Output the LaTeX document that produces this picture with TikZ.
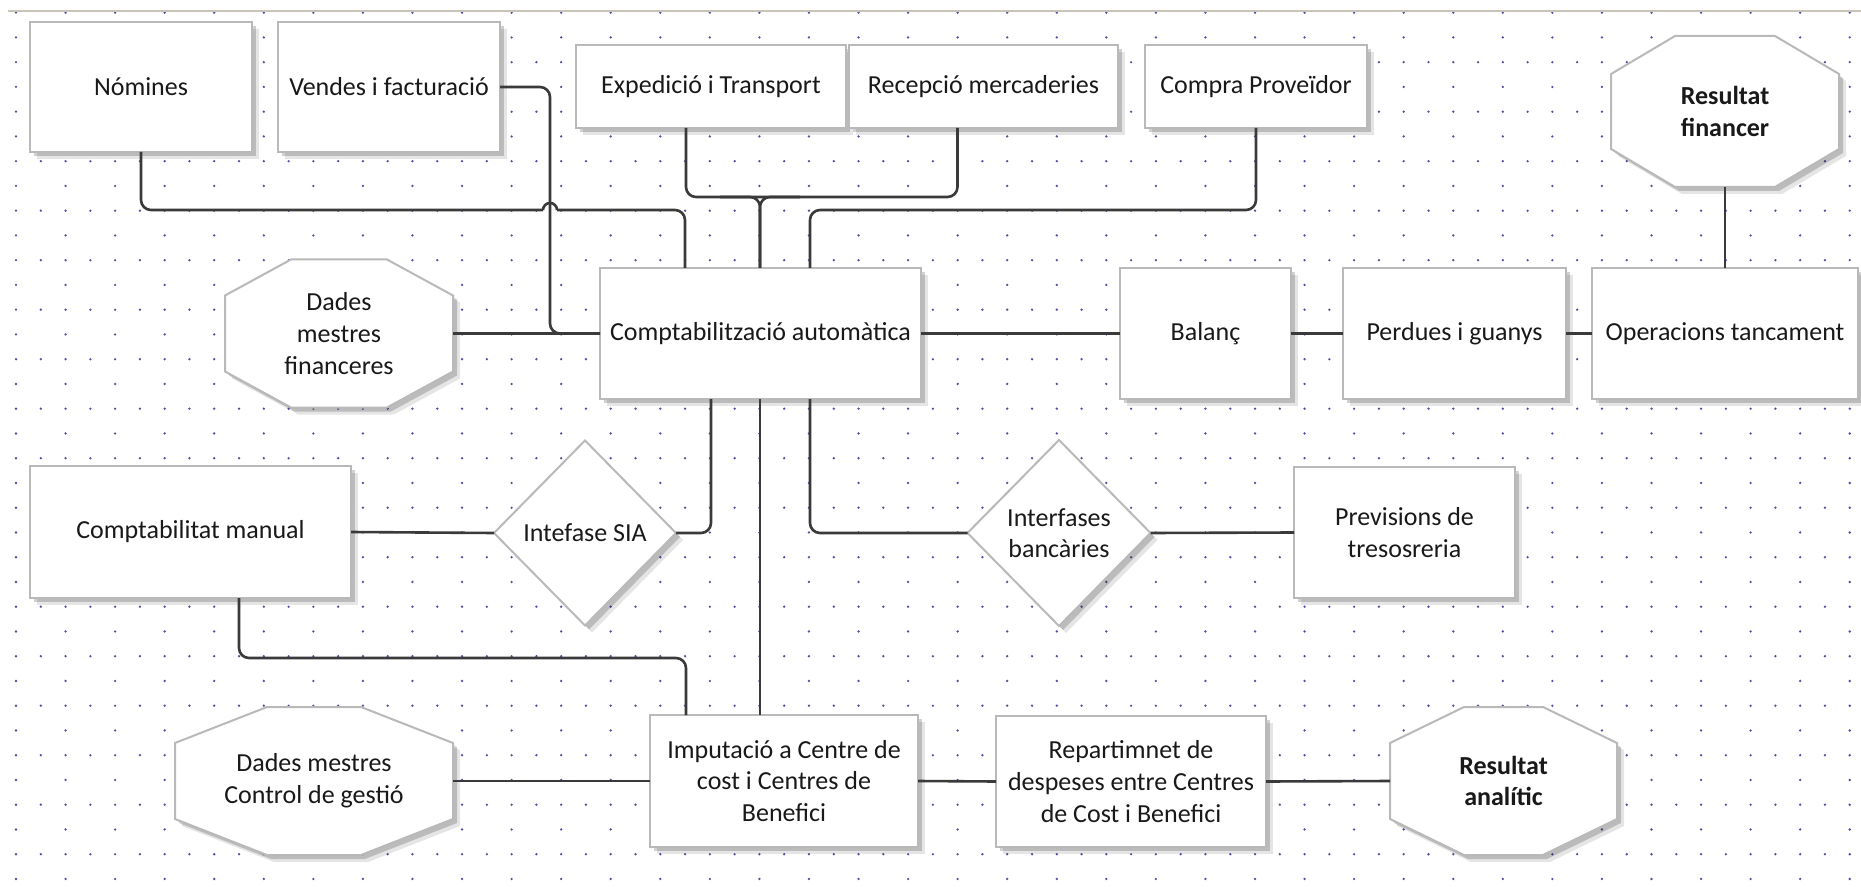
\documentclass[tikz,border=0pt]{standalone}
\usepackage{fontspec}
\setmainfont{Carlito}
\usetikzlibrary{shapes.geometric,shadows,calc}

\definecolor{linegray}{RGB}{58,58,58}
\definecolor{bordergray}{RGB}{185,185,185}
\definecolor{dotblue}{RGB}{80,80,165}
\definecolor{rulegray}{RGB}{200,196,184}

\tikzset{
  conn/.style={draw=linegray, line width=1.3pt, rounded corners=5pt},
  softshadow/.style={
    drop shadow={shadow xshift=3.5pt, shadow yshift=-3.5pt, fill=black, opacity=0.10},
    drop shadow={shadow xshift=2pt, shadow yshift=-2pt, fill=black, opacity=0.18}},
  nodetext/.style={font=\fontsize{13}{15.8}\selectfont, align=center, text=black!90},
  box/.style={rectangle, draw=bordergray, line width=1pt, fill=white,
    inner sep=0pt, outer sep=0pt, nodetext, softshadow},
  decision/.style={diamond, draw=bordergray, line width=1pt, fill=white,
    inner sep=0pt, outer sep=0pt, nodetext, softshadow},
  octframe/.style={draw=bordergray, line width=1pt, fill=white, softshadow},
  octnode/.style={rectangle, inner sep=0pt, outer sep=0pt, nodetext},
}

% octagon outline: centre x, centre y, half width, half height, corner cut x, corner cut y
\newcommand\octoutline[6]{%
  \path[octframe] (#1-#3+#5,#2-#4) -- (#1+#3-#5,#2-#4) -- (#1+#3,#2-#4+#6)
    -- (#1+#3,#2+#4-#6) -- (#1+#3-#5,#2+#4) -- (#1-#3+#5,#2+#4)
    -- (#1-#3,#2+#4-#6) -- (#1-#3,#2-#4+#6) -- cycle;}

\begin{document}
\begin{tikzpicture}[x=0.5pt, y=-0.5pt]
  \useasboundingbox (0,0) rectangle (1861,887);
  \fill[white] (0,0) rectangle (1861,887);

  % dotted background grid
  \foreach \j in {0,...,35}{
    \foreach \i in {0,...,37}{
      \fill[dotblue] ({16+49.56*\i},{12.7+24.75*\j}) circle[radius=0.65pt];
    }
    \ifodd\j\else\ifnum\j>0
      \foreach \i in {0,...,36}{
        \fill[dotblue] ({40.8+49.56*\i},{12.7+24.75*\j}) circle[radius=0.65pt];
      }
    \fi\fi
  }
  \draw[rulegray, line width=1pt] (8,11) -- (1861,11);

  % top row
  \node[box, minimum width=111pt, minimum height=65pt] (nom) at (141,87) {Nómines};
  \node[box, minimum width=111pt, minimum height=65pt] (ven) at (389,87) {Vendes i facturació};
  \node[box, minimum width=135pt, minimum height=41.5pt] (exp) at (711,86.5) {Expedició i Transport};
  \node[box, minimum width=134.5pt, minimum height=41.5pt] (rec) at (983.5,86.5) {Recepció mercaderies};
  \node[box, minimum width=111pt, minimum height=41.5pt] (com) at (1256,86.5) {Compra Proveïdor};
  \octoutline{1725}{111.5}{114}{75.5}{64}{38}
  \node[octnode, minimum width=114pt, minimum height=75.5pt] (rfin) at (1725,111.5) {\textbf{Resultat}\\\textbf{financer}};

  % second row
  \octoutline{339}{333.5}{114}{74}{66}{36}
  \node[octnode, minimum width=114pt, minimum height=74pt] (dmf) at (339,333.5) {Dades\\mestres\\financeres};
  \node[box, minimum width=160.5pt, minimum height=65.5pt] (cta) at (760.5,333.5) {Comptabilització automàtica};
  \node[box, minimum width=85.5pt, minimum height=65pt] (bal) at (1205.5,333.5) {Balanç};
  \node[box, minimum width=111.5pt, minimum height=65pt] (pig) at (1454.5,333.5) {Perdues i guanys};
  \node[box, minimum width=133pt, minimum height=65pt] (opt) at (1725,333.5) {Operacions tancament};

  % third row
  \node[box, minimum width=160.5pt, minimum height=66pt] (cman) at (190.5,532) {Comptabilitat manual};
  \node[decision, minimum width=91pt, minimum height=92.5pt] (sia) at (585,533) {Intefase SIA};
  \node[decision, minimum width=91.5pt, minimum height=93pt] (ib) at (1059,533) {Interfases\\bancàries};
  \node[box, minimum width=110.5pt, minimum height=65.5pt] (prev) at (1404.5,532.5) {Previsions de\\tresosreria};

  % bottom row
  \octoutline{314}{781}{139}{74}{92}{36}
  \node[octnode, minimum width=139pt, minimum height=74pt] (dmcg) at (314,781) {Dades mestres\\Control de gestió};
  \node[box, minimum width=134pt, minimum height=66pt] (imp) at (784,781) {Imputació a Centre de\\cost i Centres de\\Benefici};
  \node[box, minimum width=135pt, minimum height=65.5pt] (rep) at (1131,781.5) {Repartimnet de\\despeses entre Centres\\de Cost i Benefici};
  \octoutline{1503.5}{781}{113.5}{74}{74}{36}
  \node[octnode, minimum width=113.5pt, minimum height=74pt] (ra) at (1503.5,781) {\textbf{Resultat}\\\textbf{analític}};

  % attachment points on the central box
  \coordinate (ctaT1) at ($(cta.north west)+(85,0)$);
  \coordinate (ctaT2) at ($(cta.north west)+(160,0)$);
  \coordinate (ctaT3) at ($(cta.north west)+(210,0)$);
  \coordinate (ctaB1) at ($(cta.south west)+(111,0)$);
  \coordinate (ctaB2) at ($(cta.south west)+(160,0)$);
  \coordinate (ctaB3) at ($(cta.south west)+(210,0)$);
  \coordinate (expB) at ($(exp.south)+(-25,0)$);
  \coordinate (recB) at ($(rec.south)+(-26,0)$);
  \coordinate (cmanB) at ($(cman.south)+(48.5,0)$);
  \coordinate (impT) at ($(imp.north west)+(36,0)$);
  % line jump where the payroll line crosses the sales line
  \coordinate (hopL) at (543,210);
  \coordinate (hopR) at (557,210);

  % feeds into the automatic posting
  \draw[conn] (nom.south) |- (hopL);
  \draw[linegray, line width=1.3pt] (hopL) arc[start angle=180, end angle=0, radius=3.5pt];
  \draw[conn] (hopR) -| (ctaT1);
  \draw[conn] (ven.east) -| ($(cta.west)+(-50,0)$) -- (cta.west);
  \draw[conn] (dmf.east) -- (cta.west);
  \draw[conn] (expB) |- ($(recB)+(0,69)$) -- (recB);
  \draw[conn] (ctaT2) |- ($(ctaT2)+(-40,-71)$);
  \draw[conn] (ctaT2) |- ($(ctaT2)+(40,-71)$);
  \draw[conn] (com.south) |- ($(ctaT3)+(0,-58)$) -- (ctaT3);

  % financial results
  \draw[conn] (cta.east) -- (bal.west);
  \draw[conn] (bal.east) -- (pig.west);
  \draw[conn] (pig.east) -- (opt.west);
  \draw[conn] (rfin.south) -- (opt.north);

  % interfaces
  \draw[conn] (ctaB1) |- (sia.east);
  \draw[conn] (cman.east) -- (sia.west);
  \draw[conn] (ctaB3) |- (ib.west);
  \draw[conn] (ib.east) -- (prev.west);

  % cost accounting
  \draw[conn] (ctaB2) -- (ctaB2 |- imp.north);
  \draw[conn] (cmanB) |- ($(impT)+(0,-57)$) -- (impT);
  \draw[conn] (dmcg.east) -- (imp.west);
  \draw[conn] (imp.east) -- (rep.west);
  \draw[conn] (rep.east) -- (ra.west);
\end{tikzpicture}
\end{document}
